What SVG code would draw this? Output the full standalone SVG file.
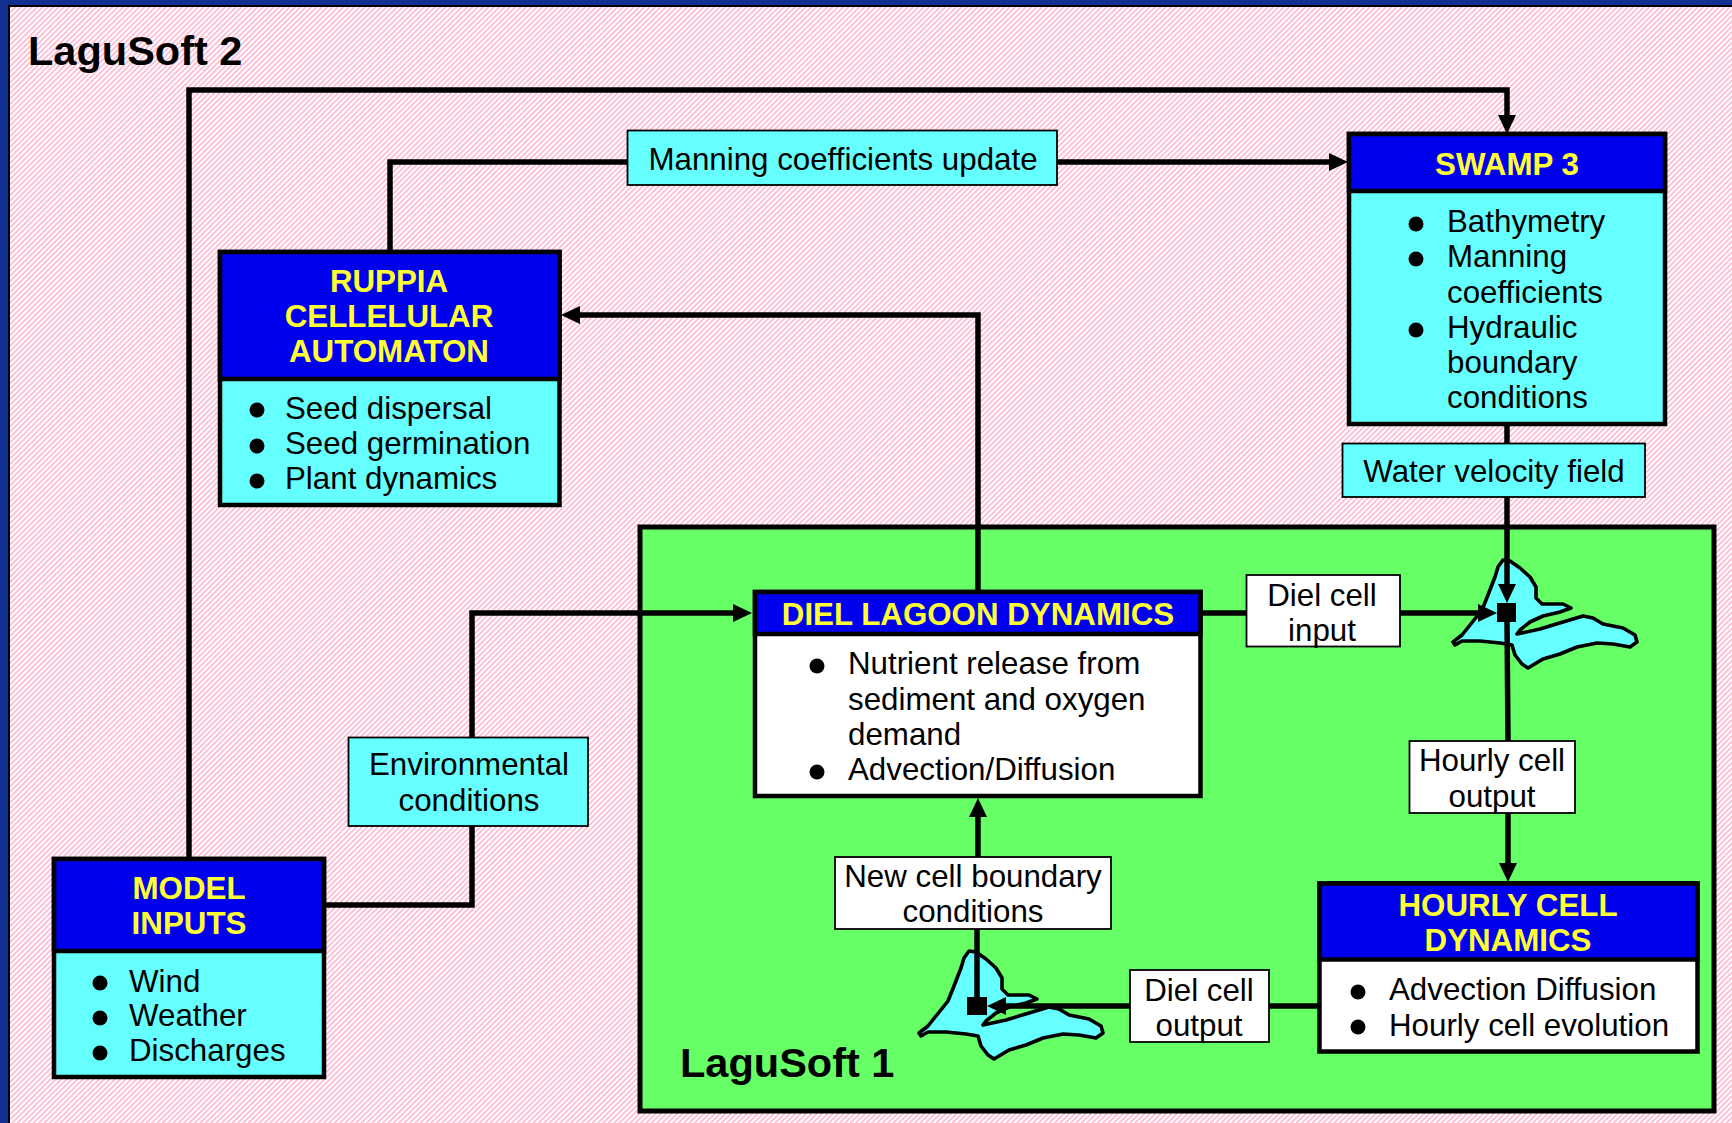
<svg xmlns="http://www.w3.org/2000/svg" width="1732" height="1123" viewBox="0 0 1732 1123">
<style>
text{font-family:"Liberation Sans",Arial,sans-serif;font-size:31.3px;fill:#000}
.c{text-anchor:middle}
.h{font-weight:bold;fill:#ffff33;text-anchor:middle}
.t{font-weight:bold;font-size:41.5px}
.b{stroke:#000;stroke-width:4.5;}
.cy{fill:#66ffff}.bl{fill:#0000ee}.w{fill:#fff}
.lab{stroke:#000;stroke-width:1.8}
.cn{fill:none;stroke:#000;stroke-width:5.5}
.lag{fill:#66ffff;stroke:#000;stroke-width:3.6;stroke-linejoin:round}
</style>
<defs>
<pattern id="hatch" width="3.8" height="3.8" patternUnits="userSpaceOnUse" patternTransform="rotate(45)"><rect width="3.8" height="3.8" fill="#fff"/><rect width="1.6" height="3.8" fill="#ffb4d0"/></pattern>
<marker id="ah" markerUnits="userSpaceOnUse" markerWidth="22" markerHeight="20" refX="6" refY="9" orient="auto"><path d="M0,0L19,9L0,18z" fill="#000"/></marker>
<path id="lagoon" d="M1503,560L1510,561L1520,568L1530,577L1536,587L1536,598L1542,604L1563,604L1571,608L1560,612L1543,616L1530,622L1520,630L1517,634L1540,629L1563,622L1583,616L1593,618L1603,624L1623,628L1635,635L1637,642L1630,647L1613,644L1597,643L1577,647L1560,654L1543,659L1528,668L1522,664L1515,655L1512,645L1500,643L1480,641L1462,641L1455,645L1453,642L1462,635L1470,625L1482,610L1488,595L1495,577L1498,567Z"/>
</defs>
<rect width="1732" height="1123" fill="#12308f"/>
<rect x="9" y="6" width="1723" height="1117" fill="url(#hatch)"/>
<path d="M9,1123V6H1732" fill="none" stroke="#000" stroke-width="2"/>
<text class="t" x="28" y="65">LaguSoft 2</text>

<g id="lagusoft1"><rect x="640" y="527" width="1074" height="584" fill="#66ff66" stroke="#000" stroke-width="5"/>
<text class="t" x="680" y="1077">LaguSoft 1</text></g>

<g id="lagoon1"><use href="#lagoon" class="lag"/></g>
<g id="lagoon2"><use href="#lagoon" class="lag" x="-534" y="391"/></g>

<g id="connectors">
<path class="cn" d="M189,858V90H1507V121" marker-end="url(#ah)"/>
<path class="cn" d="M390,252V162H627"/>
<path class="cn" d="M1057,162H1335" marker-end="url(#ah)"/>
<path class="cn" d="M978,591V315H574" marker-end="url(#ah)"/>
<path class="cn" d="M1507,424V443"/>
<path class="cn" d="M1507,497V590" marker-end="url(#ah)"/>
<path class="cn" d="M1201,613H1246"/>
<path class="cn" d="M1400,613H1484" marker-end="url(#ah)"/>
<path class="cn" d="M1507,621L1508,741"/>
<path class="cn" d="M1508,813V869" marker-end="url(#ah)"/>
<path class="cn" d="M324,905H472V826"/>
<path class="cn" d="M472,737V613H739" marker-end="url(#ah)"/>
<path class="cn" d="M978,857V811" marker-end="url(#ah)"/>
<path class="cn" d="M977,929V997"/>
<path class="cn" d="M1319,1006H1269"/>
<path class="cn" d="M1130,1006H1000" marker-end="url(#ah)"/>
<rect x="1497" y="603" width="19" height="19"/>
<rect x="967" y="997" width="20" height="18"/>
</g>

<g id="swamp3"><rect class="cy b" x="1349" y="134" width="316" height="290"/><rect class="bl b" x="1349" y="134" width="316" height="57"/>
<text class="h" x="1507" y="175">SWAMP 3</text>
<circle cx="1416" cy="224" r="7.5"/><circle cx="1416" cy="259" r="7.5"/><circle cx="1416" cy="330" r="7.5"/>
<text x="1447" y="232">Bathymetry</text><text x="1447" y="267">Manning</text><text x="1447" y="303">coefficients</text><text x="1447" y="338">Hydraulic</text><text x="1447" y="373">boundary</text><text x="1447" y="408">conditions</text></g>

<g id="ruppia"><rect class="cy b" x="220" y="252" width="339.5" height="253"/><rect class="bl b" x="220" y="252" width="339.5" height="127"/>
<text class="h" x="389" y="292">RUPPIA</text><text class="h" x="389" y="327">CELLELULAR</text><text class="h" x="389" y="362">AUTOMATON</text>
<circle cx="257" cy="410" r="7.5"/><circle cx="257" cy="446" r="7.5"/><circle cx="257" cy="481" r="7.5"/>
<text x="285" y="419">Seed dispersal</text><text x="285" y="454">Seed germination</text><text x="285" y="489">Plant dynamics</text></g>

<g id="model-inputs"><rect class="cy b" x="54" y="859" width="270" height="218"/><rect class="bl b" x="54" y="859" width="270" height="92"/>
<text class="h" x="189" y="899">MODEL</text><text class="h" x="189" y="934">INPUTS</text>
<circle cx="100" cy="983" r="7.5"/><circle cx="100" cy="1018" r="7.5"/><circle cx="100" cy="1053" r="7.5"/>
<text x="129" y="992">Wind</text><text x="129" y="1026">Weather</text><text x="129" y="1061">Discharges</text></g>

<g id="diel"><rect class="w b" x="755" y="592" width="445.5" height="204"/><rect class="bl b" x="755" y="592" width="445.5" height="42"/>
<text class="h" x="978" y="625">DIEL LAGOON DYNAMICS</text>
<circle cx="817" cy="666" r="7.5"/><circle cx="817" cy="772" r="7.5"/>
<text x="848" y="674">Nutrient release from</text><text x="848" y="710">sediment and oxygen</text><text x="848" y="745">demand</text><text x="848" y="780">Advection/Diffusion</text></g>

<g id="hourly"><rect class="w b" x="1319.5" y="883.5" width="378" height="168"/><rect class="bl b" x="1319.5" y="883.5" width="378" height="76"/>
<text class="h" x="1508" y="916">HOURLY CELL</text><text class="h" x="1508" y="951">DYNAMICS</text>
<circle cx="1358" cy="992" r="7.5"/><circle cx="1358" cy="1027" r="7.5"/>
<text x="1389" y="1000">Advection Diffusion</text><text x="1389" y="1036">Hourly cell evolution</text></g>

<g id="label-manning"><rect class="cy lab" x="627.5" y="130.5" width="429.5" height="54.5"/><text class="c" x="843" y="170">Manning coefficients update</text></g>
<g id="label-water"><rect class="cy lab" x="1342.5" y="443.5" width="302.5" height="53.5"/><text class="c" x="1494" y="482">Water velocity field</text></g>
<g id="label-env"><rect class="cy lab" x="348.5" y="737.5" width="239.5" height="88.5"/><text class="c" x="469" y="775">Environmental</text><text class="c" x="469" y="811">conditions</text></g>
<g id="label-diel-in"><rect class="w lab" x="1246.5" y="575" width="153.5" height="71.5"/><text class="c" x="1322" y="606">Diel cell</text><text class="c" x="1322" y="641">input</text></g>
<g id="label-hourly-out"><rect class="w lab" x="1409.5" y="741" width="165.5" height="72"/><text class="c" x="1492" y="771">Hourly cell</text><text class="c" x="1492" y="807">output</text></g>
<g id="label-new"><rect class="w lab" x="835" y="857" width="276" height="72"/><text class="c" x="973" y="887">New cell boundary</text><text class="c" x="973" y="922">conditions</text></g>
<g id="label-diel-out"><rect class="w lab" x="1130" y="970" width="139" height="72"/><text class="c" x="1199" y="1001">Diel cell</text><text class="c" x="1199" y="1036">output</text></g>
</svg>
